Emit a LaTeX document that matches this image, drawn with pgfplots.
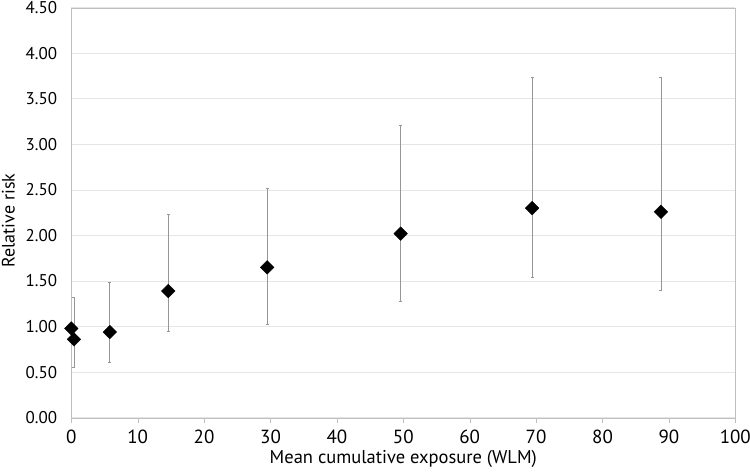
\documentclass[border=0pt]{standalone}
\usepackage{pgfplots}
\pgfplotsset{compat=1.18}
\usepackage{fontspec}
\setmainfont{PT Sans}
\definecolor{frame}{RGB}{191,191,191}
\definecolor{gridc}{RGB}{230,230,230}
\definecolor{bar}{RGB}{150,150,150}

\begin{document}
\begin{tikzpicture}
% picture frame: axis box sits 71.3pt from the left and 7.7pt from the top
\path[use as bounding box] (-71.3pt,-54.3pt) rectangle (678.7pt,417.7pt);
\begin{axis}[
  at={(0pt,0pt)}, anchor=south west,
  scale only axis,
  width=664pt, height=410pt,
  xmin=0, xmax=100, ymin=0, ymax=4.5,
  xtick={0,10,...,100},
  ytick={0,0.5,...,4.5},
  yticklabel={\pgfmathprintnumber[fixed,fixed zerofill,precision=2]{\tick}},
  /pgf/number format/assume math mode=true,
  axis line style={frame},
  major tick length=5pt,
  xtick style={frame},
  ytick style={draw=none},
  tick align=outside,
  xtick pos=bottom, ytick pos=left,
  ymajorgrids, grid style={gridc, line width=0.8pt},
  xticklabel style={font=\fontsize{19}{21}\selectfont, anchor=north, inner sep=0pt, yshift=-7pt},
  yticklabel style={font=\fontsize{17}{19}\selectfont, anchor=east, inner sep=0pt, xshift=-9pt},
  xlabel={Mean cumulative exposure (WLM)},
  ylabel={Relative risk},
  xlabel style={font=\fontsize{18.5}{20}\selectfont, at={(axis description cs:0.5,-0.101)}, anchor=center, inner sep=0pt},
  ylabel style={font=\fontsize{18}{20}\selectfont, at={(axis description cs:-0.0946,0.481)}, anchor=center, inner sep=0pt},
  clip=false,
]
\addplot[only marks, mark=square*, mark size=4.8pt,
  mark options={rotate=45, fill=black, draw=black},
  error bars/.cd, y dir=both, y explicit,
  error bar style={bar, line width=0.7pt},
  error mark options={rotate=90, bar, mark size=1.5pt, line width=0.7pt}]
  coordinates {
  (0.0,0.98) +- (0,0)
  (0.4,0.86) += (0,0.46) -= (0,0.31)
  (5.8,0.94) += (0,0.55) -= (0,0.33)
  (14.6,1.39) += (0,0.84) -= (0,0.44)
  (29.5,1.65) += (0,0.87) -= (0,0.63)
  (49.6,2.02) += (0,1.19) -= (0,0.74)
  (69.4,2.30) += (0,1.44) -= (0,0.76)
  (88.8,2.26) += (0,1.48) -= (0,0.86)
  };
\end{axis}
\end{tikzpicture}
\end{document}
